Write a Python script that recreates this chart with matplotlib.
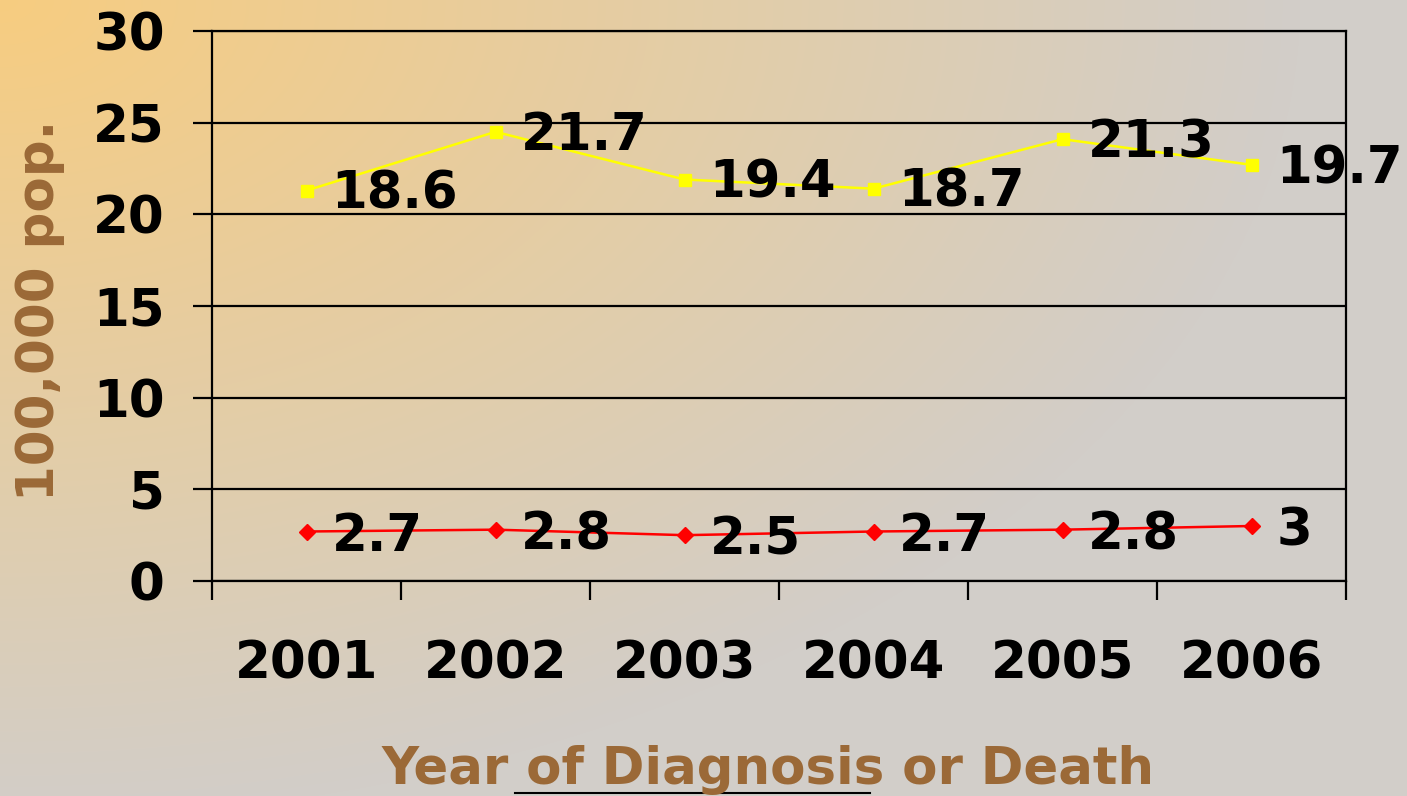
import numpy as np
import matplotlib
matplotlib.use("Agg")
import matplotlib.pyplot as plt

# data: yellow series is stacked on top of the red one (labels show own values)
years = ["2001", "2002", "2003", "2004", "2005", "2006"]
red_vals = [2.7, 2.8, 2.5, 2.7, 2.8, 3]
yellow_vals = [18.6, 21.7, 19.4, 18.7, 21.3, 19.7]
red_labels = ["2.7", "2.8", "2.5", "2.7", "2.8", "3"]
yellow_labels = ["18.6", "21.7", "19.4", "18.7", "21.3", "19.7"]

BROWN = "#9b6937"
FS = 37

plt.rcParams["font.family"] = ["DejaVu Sans"]
plt.rcParams["font.weight"] = "bold"

W, H = 1407, 796
fig = plt.figure(figsize=(W / 100, H / 100), dpi=100)

# background gradient: warm orange top-left fading to grey
bg = fig.add_axes([0, 0, 1, 1])
yy, xx = np.mgrid[0:H, 0:W]
t = np.clip(np.sqrt((xx / 1300.0) ** 2 + (yy / 820.0) ** 2), 0, 1)[..., None]
c0 = np.array([247, 204, 128]) / 255.0
c1 = np.array([210, 206, 201]) / 255.0
bg.imshow(c0 * (1 - t) + c1 * t, aspect="auto", extent=[0, 1, 0, 1])
bg.axis("off")

ax = fig.add_axes([212 / W, 1 - 581 / H, (1346 - 212) / W, 550 / H])
ax.patch.set_alpha(0)

x = np.arange(len(years))
yellow_top = np.array(red_vals) + np.array(yellow_vals)

ax.plot(x, red_vals, color="#ff0000", lw=1.8, marker="D", ms=8, zorder=3)
ax.plot(x, yellow_top, color="#ffff00", lw=1.8, marker="s", ms=9, zorder=3)

for xi, v, lab in zip(x, red_vals, red_labels):
    ax.annotate(lab, (xi, v), xytext=(18, -4), textcoords="offset points",
                ha="left", va="center", fontsize=FS, fontweight="bold", zorder=4)
for xi, v, lab in zip(x, yellow_top, yellow_labels):
    ax.annotate(lab, (xi, v), xytext=(18, -3), textcoords="offset points",
                ha="left", va="center", fontsize=FS, fontweight="bold", zorder=4,
                annotation_clip=False)

ax.set_xlim(-0.5, len(years) - 0.5)
ax.set_ylim(0, 30)
ax.set_yticks(range(0, 31, 5))
ax.yaxis.grid(True, color="black", lw=1.6)
ax.set_axisbelow(True)
ax.tick_params(axis="y", length=14, width=1.6, pad=20, labelsize=FS)

ax.set_xticks(x)
ax.set_xticklabels(years)
ax.set_xticks(np.arange(-0.5, len(years)), minor=True)
ax.tick_params(axis="x", which="major", length=0, pad=42, labelsize=FS)
ax.tick_params(axis="x", which="minor", length=14, width=1.6)
for sp in ax.spines.values():
    sp.set_color("black")
    sp.set_linewidth(1.6)

fig.text(40 / W, 1 - 310 / H, "100,000 pop.", rotation=90, ha="center", va="center",
         fontsize=FS, fontweight="bold", color=BROWN)
fig.text(768 / W, 1 - 770 / H, "Year of Diagnosis or Death", ha="center", va="center",
         fontsize=FS, fontweight="bold", color=BROWN)
# stray underline below the axis title
fig.add_artist(plt.Line2D([515 / W, 870 / W], [1 - 793 / H, 1 - 793 / H],
                          color="black", lw=1.5))

fig.savefig("out.png", dpi=100)
